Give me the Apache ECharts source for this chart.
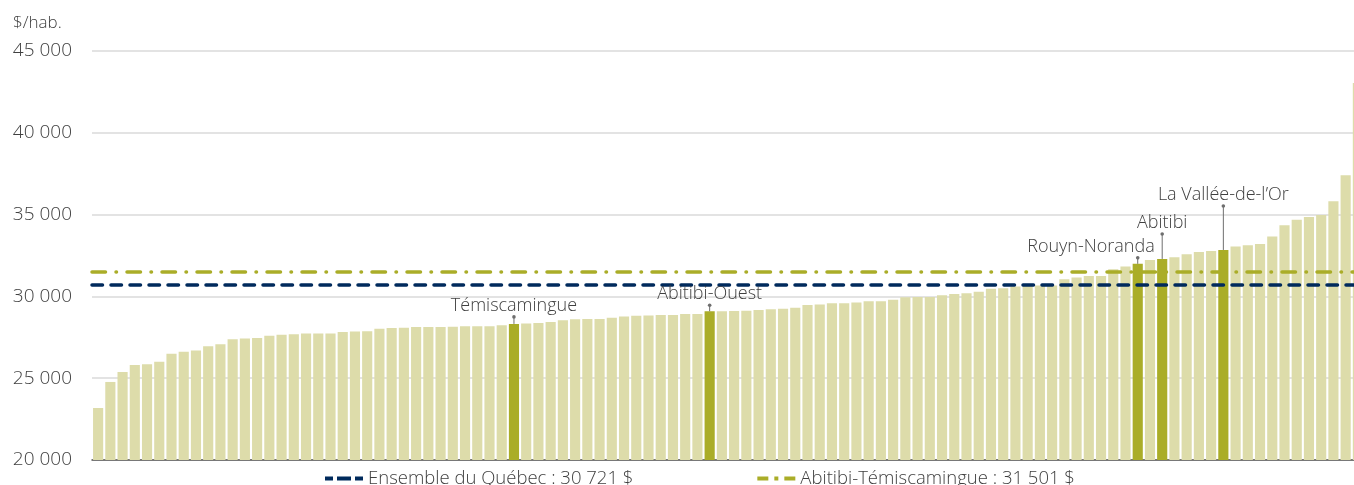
<!DOCTYPE html>
<html>
<head>
<meta charset="utf-8">
<script src="https://cdn.jsdelivr.net/npm/echarts@6/dist/echarts.min.js"></script>
<style>
  html, body { margin: 0; padding: 0; background: #fff; }
  #chart { width: 1354px; height: 485px; }
</style>
</head>
<body>
<div id="chart"></div>
<script>
// revenu par habitant des MRC, trié (les 5 MRC de l'Abitibi-Témiscamingue en foncé)
var values = [
  23180, 24770, 25380, 25810, 25850, 26010, 26500, 26620, 26700, 26950,
  27080, 27380, 27420, 27460, 27600, 27650, 27690, 27730, 27730, 27730,
  27830, 27850, 27870, 28030, 28070, 28090, 28130, 28130, 28130, 28150,
  28170, 28180, 28180, 28230, 28320, 28340, 28380, 28440, 28540, 28600,
  28620, 28620, 28690, 28770, 28810, 28830, 28870, 28870, 28930, 28930,
  29090, 29090, 29110, 29130, 29170, 29220, 29250, 29310, 29480, 29500,
  29580, 29580, 29620, 29700, 29700, 29790, 29950, 29970, 29970, 30070,
  30150, 30190, 30280, 30460, 30500, 30600, 30640, 30660, 30660, 31050,
  31150, 31250, 31250, 31660, 31820, 31990, 32230, 32290, 32400, 32580,
  32720, 32780, 32840, 33050, 33130, 33210, 33660, 34350, 34680, 34860,
  34980, 35820, 37410, 43040
]
var categories = values.map(function (v, i) { return String(i + 1) })
var hlIndex = [34, 50, 85, 87, 92]
var hlNames = ['Témiscamingue', 'Abitibi-Ouest', 'Rouyn-Noranda', 'Abitibi', 'La Vallée-de-l’Or']
var quebecAvg = 30721
var regionAvg = 31501
var yTicks = [20000, 45000, 5000]

// position des étiquettes (pixels)
var annoStyle = [
  { lead: 7, dx: 0, align: 'center' },
  { lead: 6, dx: 0, align: 'center' },
  { lead: 6, dx: 17, align: 'right' },
  { lead: 25, dx: 0, align: 'center' },
  { lead: 44, dx: 0, align: 'center' }
]

var light = '#dddcaa'
var dark = '#aaad28'
var navy = '#002a5c'
var textColor = '#404040'
var font = '"Open Sans", "DejaVu Sans", sans-serif'

function fmt (v) {
  return String(v).replace(/\B(?=(\d{3})+(?!\d))/g, ' ')
}

var barData = values.map(function (v, i) {
  if (hlIndex.indexOf(i) >= 0) {
    return { value: v, itemStyle: { color: dark } }
  }
  return v
})

var annoData = hlIndex.map(function (i) { return [i, values[i]] })

var navyLine = { color: navy, width: 3.5, type: [10.5, 8.5], cap: 'round' }
var oliveLine = { color: dark, width: 3.5, type: [13.5, 10.5, 0.5, 10.5], cap: 'round' }
var quebecName = 'Ensemble du Québec : ' + fmt(quebecAvg) + ' $'
var regionName = 'Abitibi-Témiscamingue : ' + fmt(regionAvg) + ' $'

var chart = echarts.init(document.getElementById('chart'), null, { renderer: 'canvas' })
chart.setOption({
  animation: false,
  textStyle: { fontFamily: font },
  title: {
    text: '$/hab.',
    left: 8,
    top: 10,
    textStyle: { fontFamily: font, fontSize: 17, fontWeight: 300, color: textColor }
  },
  // la dernière barre dépasse le bord de l'image
  grid: { left: 92, width: 1272, top: 51, bottom: 25, outerBoundsMode: 'none', containLabel: false },
  legend: {
    left: 320,
    top: 464,
    itemGap: 124,
    itemWidth: 38,
    itemHeight: 4,
    textStyle: { fontFamily: font, fontSize: 18.5, fontWeight: 300, color: textColor },
    data: [
      { name: quebecName, icon: 'path://M0,0h8v4h-8z M12,0h14v4h-14z M30,0h8v4h-8z' },
      { name: regionName, icon: 'path://M0,0h11v4h-11z M17,0h4v4h-4z M27,0h11v4h-11z' }
    ]
  },
  xAxis: {
    type: 'category',
    data: categories,
    axisLabel: { show: false },
    axisTick: { show: false },
    axisLine: { lineStyle: { color: '#555', width: 1.5 } }
  },
  yAxis: {
    type: 'value',
    min: yTicks[0],
    max: yTicks[1],
    interval: yTicks[2],
    axisLabel: { formatter: fmt, fontFamily: font, fontSize: 19, fontWeight: 300, color: textColor, margin: 20 },
    axisLine: { show: false },
    axisTick: { show: false },
    splitLine: { lineStyle: { color: '#dadada', width: 1.5 } }
  },
  series: [
    {
      type: 'bar',
      data: barData,
      barCategoryGap: '17%',
      itemStyle: { color: light },
      silent: true
    },
    {
      name: quebecName,
      type: 'line',
      data: [],
      symbol: 'none',
      z: 5,
      lineStyle: navyLine,
      itemStyle: { color: navy },
      markLine: {
        silent: true,
        symbol: 'none',
        label: { show: false },
        lineStyle: navyLine,
        data: [{ yAxis: quebecAvg }]
      }
    },
    {
      name: regionName,
      type: 'line',
      data: [],
      symbol: 'none',
      z: 5,
      lineStyle: oliveLine,
      itemStyle: { color: dark },
      markLine: {
        silent: true,
        symbol: 'none',
        label: { show: false },
        lineStyle: oliveLine,
        data: [{ yAxis: regionAvg }]
      }
    },
    {
      type: 'custom',
      data: annoData,
      encode: { x: 0, y: 1 },
      z: 6,
      silent: true,
      renderItem: function (params, api) {
        var p = api.coord([api.value(0), api.value(1)])
        var s = annoStyle[params.dataIndex]
        var top = p[1] - s.lead
        return {
          type: 'group',
          children: [
            { type: 'line', shape: { x1: p[0], y1: p[1], x2: p[0], y2: top }, style: { stroke: '#6e6e6e', lineWidth: 1 } },
            { type: 'circle', shape: { cx: p[0], cy: top, r: 1.8 }, style: { fill: '#6e6e6e' } },
            {
              type: 'text',
              x: p[0] + s.dx,
              y: top - 2,
              style: { text: hlNames[params.dataIndex], fill: textColor, font: '300 18px ' + font, align: s.align, verticalAlign: 'bottom' }
            }
          ]
        }
      }
    }
  ]
})
</script>
</body>
</html>
